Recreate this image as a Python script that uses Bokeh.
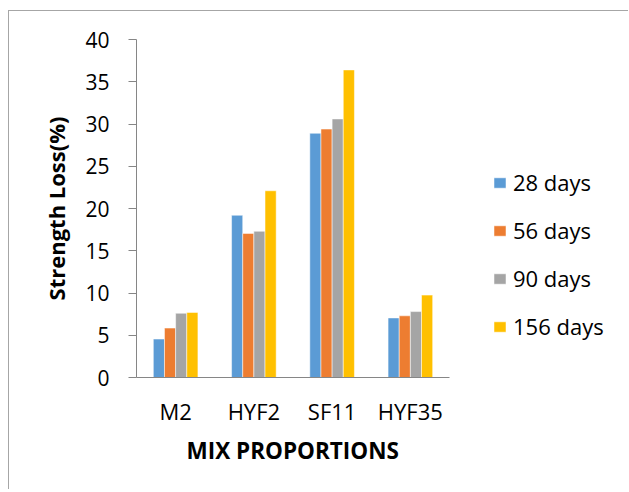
from bokeh.plotting import figure
from bokeh.models import ColumnDataSource, Legend, LegendItem, FixedTicker, Range1d, Title
from bokeh.embed import file_html
from bokeh.resources import INLINE

categories = ["M2", "HYF2", "SF11", "HYF35"]
series_names = ["28 days", "56 days", "90 days", "156 days"]
d28 = [4.55, 19.2, 28.9, 7.05]
d56 = [5.85, 17.05, 29.4, 7.3]
d90 = [7.6, 17.3, 30.6, 7.8]
d156 = [7.7, 22.1, 36.4, 9.75]
colors = ["#5B9BD5", "#ED7D31", "#A5A5A5", "#FFC000"]
y_ticks = [0, 5, 10, 15, 20, 25, 30, 35, 40]

n = len(categories)
centers = [i + 0.5 for i in range(n)]
series = dict(d28=d28, d56=d56, d90=d90, d156=d156)

FONT = "Open Sans"
W, H = 620, 479
LEFT, TOP, BOTTOM = 127, 28, 113
plot_w = 313  # pixel width of the category area
frame_w = W - LEFT
x_end = n * frame_w / plot_w

p = figure(x_range=Range1d(0, x_end), y_range=Range1d(0, 40),
           width=W, height=H, output_backend="svg", toolbar_location=None,
           min_border_left=LEFT, min_border_top=TOP, min_border_bottom=BOTTOM, min_border_right=0)
p.styles = {"margin-left": "8px", "margin-top": "10px",
            "border-left": "1px solid #a6a6a6", "border-top": "1px solid #a6a6a6"}
p.outline_line_color = None
p.xgrid.grid_line_color = None
p.ygrid.grid_line_color = None

bw = 0.1425
offs = [-1.5 * bw, -0.5 * bw, 0.5 * bw, 1.5 * bw]
items = []
for (k, vals), o, c, nm in zip(series.items(), offs, colors, series_names):
    xs = [cx + o for cx in centers]
    src = ColumnDataSource(dict(x=xs, top=vals))
    r = p.vbar(x="x", top="top", width=bw, source=src,
               fill_color=c, line_color="white", line_width=0.5)
    items.append(LegendItem(label=nm, renderers=[r]))

legend = Legend(items=items, location=(356, 36), padding=0, margin=0,
                border_line_color=None, background_fill_alpha=0,
                glyph_width=15, glyph_height=13, label_standoff=6, spacing=18,
                label_text_font=FONT, label_text_font_size="22px", label_text_color="#000000")
p.add_layout(legend, "center")

p.yaxis.ticker = FixedTicker(ticks=y_ticks)
p.yaxis.axis_line_color = "#868686"
p.yaxis.major_tick_line_color = "#868686"
p.yaxis.major_tick_out = 8
p.yaxis.major_tick_in = 0
p.yaxis.minor_tick_line_color = None
p.yaxis.major_label_standoff = 19
p.yaxis.major_label_text_font = FONT
p.yaxis.major_label_text_font_size = "21px"
p.yaxis.major_label_text_color = "#000000"
p.yaxis.axis_label = "Strength Loss(%)"
p.yaxis.axis_label_text_font = FONT
p.yaxis.axis_label_text_font_size = "22px"
p.yaxis.axis_label_text_font_style = "bold"
p.yaxis.axis_label_text_color = "#000000"
p.yaxis.axis_label_standoff = 11

p.xaxis.ticker = FixedTicker(ticks=centers)
p.xaxis.major_label_overrides = {c: lab for c, lab in zip(centers, categories)}
p.xaxis.bounds = (0, n)
p.xaxis.axis_line_color = "#868686"
p.xaxis.major_tick_line_color = None
p.xaxis.minor_tick_line_color = None
p.xaxis.major_label_standoff = 12
p.xaxis.major_label_text_font = FONT
p.xaxis.major_label_text_font_size = "22px"
p.xaxis.major_label_text_color = "#000000"

xlabel = Title(text="MIX PROPORTIONS", align="left", offset=50, standoff=8,
               text_font=FONT, text_font_size="22.5px", text_font_style="bold",
               text_color="#000000")
p.add_layout(xlabel, "below")

open("out.html", "w").write(file_html(p, INLINE))
